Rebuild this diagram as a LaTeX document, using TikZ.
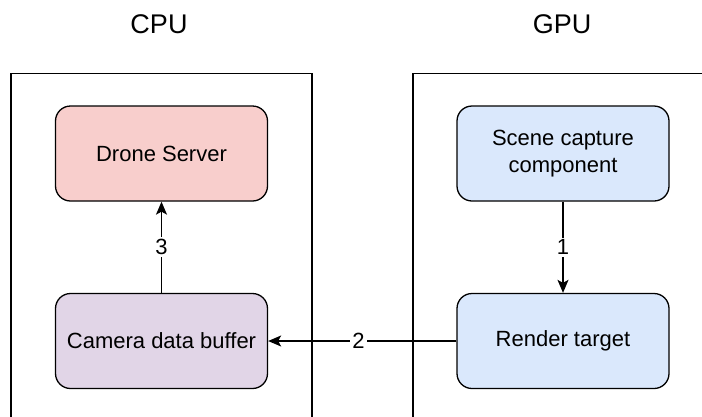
\documentclass[tikz,border=0pt]{standalone}
\usepackage{fontspec}
\setmainfont{Liberation Sans}
\usetikzlibrary{arrows.meta}
\definecolor{pinkfill}{HTML}{F8CECC}
\definecolor{bluefill}{HTML}{DAE8FC}
\definecolor{purplefill}{HTML}{E1D5E7}
\begin{document}
\begin{tikzpicture}[x=1pt,y=-1pt,
  txt/.style={font=\fontsize{22}{27}\selectfont},
  title/.style={font=\fontsize{27}{32}\selectfont, inner sep=0pt},
  box/.style={txt, draw=black, line width=1.3pt, rounded corners=15pt,
    minimum width=212pt, minimum height=95pt, align=center, inner sep=0pt},
  lane/.style={draw=black, line width=1.3pt},
  conn/.style={draw=black, line width=1.3pt, -{Stealth[length=13pt,width=11pt,inset=3pt]}},
  elabel/.style={txt, fill=white, inner sep=2pt}
]
\useasboundingbox (0,0) rectangle (702,416);
\fill[white] (0,0) rectangle (702,416);
% lanes
\draw[lane] (11,417) -- (11,73.5) -- (312,73.5) -- (312,417);
\draw[lane] (413,417) -- (413,73.5) -- (703,73.5);
\node[title, anchor=base] (cpu) at (159,33) {CPU};
\node[title, anchor=base] (gpu) at (562,33) {GPU};
% boxes
\node[box, fill=pinkfill] (drone) at (161.5,153.5) {Drone Server};
\node[box, fill=purplefill] (camera) at (161.5,341) {Camera data buffer};
\node[box, fill=bluefill] (scene) at (563,153.5) {Scene capture\\component};
\node[box, fill=bluefill] (render) at (563,341) {Render target};
% connectors
\draw[conn] (scene) -- node[elabel] {1} (render);
\draw[conn] (render) -- node[elabel, pos=0.52] {2} (camera);
\draw[conn] (camera) -- node[elabel] {3} (drone);
\end{tikzpicture}
\end{document}
